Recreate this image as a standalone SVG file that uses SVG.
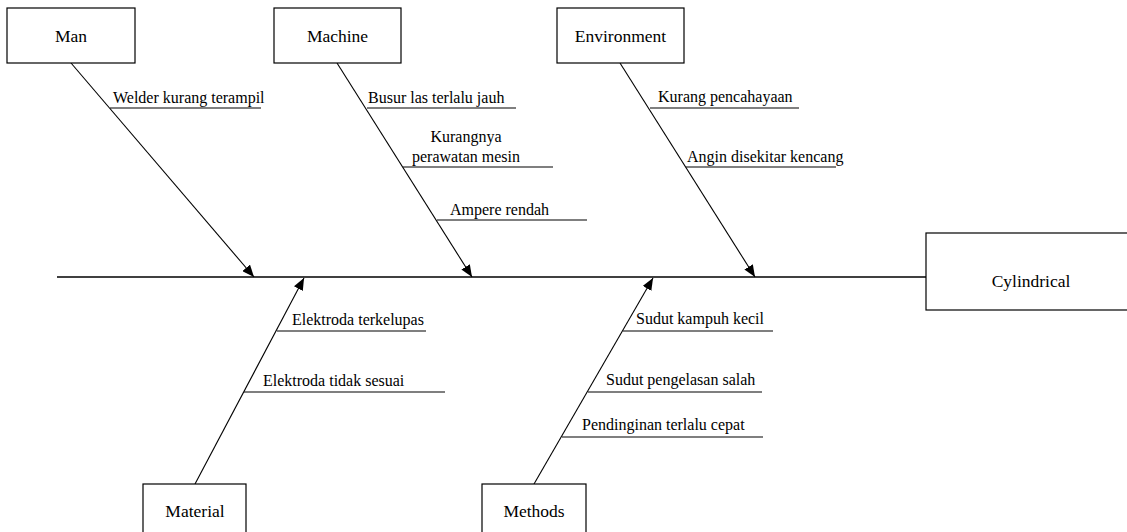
<svg xmlns="http://www.w3.org/2000/svg" width="1127" height="532" viewBox="0 0 1127 532">
  <style>
    .box { fill: #fff; stroke: #000; stroke-width: 1.2; }
    .label { font-family: "Liberation Serif", "Times New Roman", serif; font-size: 17.5px; fill: #000; text-anchor: middle; }
    .cause { font-family: "Liberation Serif", "Times New Roman", serif; font-size: 16px; fill: #000; }
    .bone { stroke: #000; stroke-width: 1.1; fill: none; }
    .spine { stroke: #000; stroke-width: 1.6; fill: none; }
    .under { stroke: #000; stroke-width: 1.1; fill: none; }
  </style>
  <defs>
    <marker id="arrow" viewBox="0 0 12 10" refX="12" refY="5" markerWidth="12" markerHeight="10" markerUnits="userSpaceOnUse" orient="auto">
      <path d="M0,0 L12,5 L0,10 Z" fill="#000"/>
    </marker>
  </defs>

  <rect width="1127" height="532" fill="#fff"/>

  <!-- connectors: spine, category bones, cause lines -->
  <g id="connectors">
    <line class="spine" x1="57" y1="277" x2="926" y2="277"/>
    <line class="bone" x1="71" y1="63" x2="254" y2="277" marker-end="url(#arrow)"/>
    <line class="bone" x1="337" y1="63" x2="472" y2="277" marker-end="url(#arrow)"/>
    <line class="bone" x1="620" y1="63" x2="755" y2="277" marker-end="url(#arrow)"/>
    <line class="bone" x1="195" y1="484" x2="304" y2="278" marker-end="url(#arrow)"/>
    <line class="bone" x1="534" y1="484" x2="653" y2="278" marker-end="url(#arrow)"/>

    <line class="under" x1="110" y1="108" x2="261" y2="108"/>
    <line class="under" x1="367" y1="108" x2="516" y2="108"/>
    <line class="under" x1="403" y1="167" x2="553" y2="167"/>
    <line class="under" x1="437" y1="220" x2="587" y2="220"/>
    <line class="under" x1="650" y1="108" x2="799" y2="108"/>
    <line class="under" x1="686" y1="167" x2="836" y2="167"/>
    <line class="under" x1="277" y1="331" x2="426" y2="331"/>
    <line class="under" x1="244" y1="392" x2="445" y2="392"/>
    <line class="under" x1="623" y1="331" x2="773" y2="331"/>
    <line class="under" x1="588" y1="392" x2="762" y2="392"/>
    <line class="under" x1="562" y1="437" x2="763" y2="437"/>
  </g>

  <g id="man">
    <rect class="box" x="7" y="8" width="128" height="55"/>
    <text class="label" x="71" y="42">Man</text>
    <text class="cause" x="113" y="103">Welder kurang terampil</text>
  </g>

  <g id="machine">
    <rect class="box" x="274" y="8" width="127" height="55"/>
    <text class="label" x="337.5" y="42">Machine</text>
    <text class="cause" x="368" y="103">Busur las terlalu jauh</text>
    <text class="cause" x="466" y="142" text-anchor="middle">Kurangnya</text>
    <text class="cause" x="466" y="162" text-anchor="middle">perawatan mesin</text>
    <text class="cause" x="450" y="215">Ampere rendah</text>
  </g>

  <g id="environment">
    <rect class="box" x="557" y="8" width="127" height="55"/>
    <text class="label" x="620.5" y="42">Environment</text>
    <text class="cause" x="658" y="102">Kurang pencahayaan</text>
    <text class="cause" x="687" y="162">Angin disekitar kencang</text>
  </g>

  <g id="material">
    <rect class="box" x="143" y="484" width="103" height="60"/>
    <text class="label" x="195" y="517">Material</text>
    <text class="cause" x="292" y="325">Elektroda terkelupas</text>
    <text class="cause" x="263" y="386">Elektroda tidak sesuai</text>
  </g>

  <g id="methods">
    <rect class="box" x="482" y="484" width="104" height="60"/>
    <text class="label" x="534" y="517">Methods</text>
    <text class="cause" x="636" y="324">Sudut kampuh kecil</text>
    <text class="cause" x="606" y="385">Sudut pengelasan salah</text>
    <text class="cause" x="582" y="430">Pendinginan terlalu cepat</text>
  </g>

  <g id="effect">
    <rect class="box" x="926" y="233" width="220" height="77"/>
    <text class="label" x="1031" y="287">Cylindrical</text>
  </g>
</svg>
